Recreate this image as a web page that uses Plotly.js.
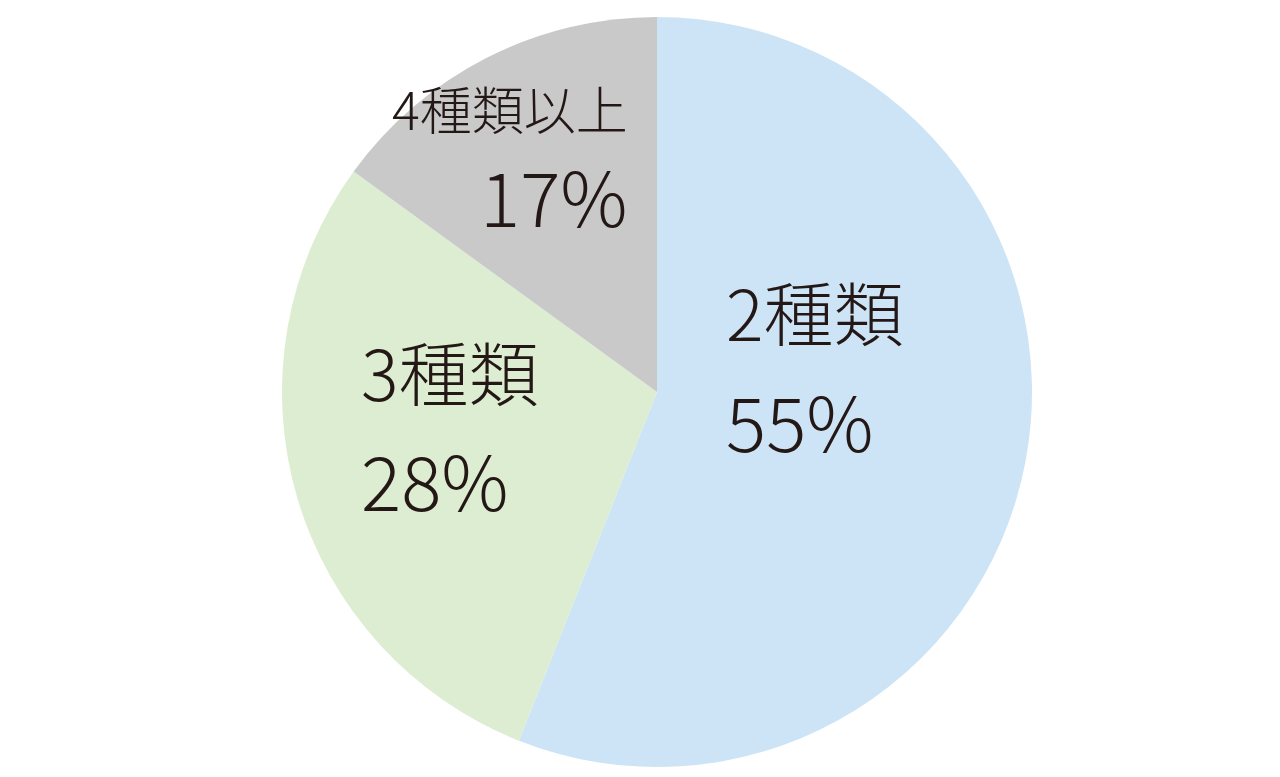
<!DOCTYPE html>
<html>
<head>
<meta charset="utf-8">
<script src="https://cdn.plot.ly/plotly-3.0.1.min.js"></script>
<style>
  html, body { margin: 0; padding: 0; background: #fff; }
  #chart { width: 1280px; height: 777px; }
</style>
</head>
<body>
<div id="chart"></div>
<script>
const categories = ['2種類', '3種類', '4種類以上'];
const sliceSizes = [56, 29, 15];
const pctLabels  = ['55%', '28%', '17%'];
const colors     = ['#cde4f6', '#ddedd1', '#c9c9c9'];

const W = 1280, H = 777;
const CX = 657, CY = 392, R = 375;
const TEXT = '#231815';
const FONT = "'Noto Sans CJK JP', 'Noto Sans', sans-serif";

// label spots (px): [x, yName, yPct, anchor, nameSize]
const labelSpots = [
  [724, 310, 419, 'left', 70],
  [359, 370, 479, 'left', 70],
  [630, 108, 195, 'right', 52],
];

const px = x => x / W;
const py = y => 1 - y / H;

const annotations = [];
categories.forEach((c, i) => {
  const [x, yN, yP, anchor, size] = labelSpots[i];
  annotations.push({
    xref: 'paper', yref: 'paper', x: px(x), y: py(yN),
    xanchor: anchor, yanchor: 'middle', showarrow: false,
    text: c, font: { family: FONT, size: size, color: TEXT, weight: 300 },
  });
  annotations.push({
    xref: 'paper', yref: 'paper', x: px(x), y: py(yP),
    xanchor: anchor, yanchor: 'middle', showarrow: false,
    text: pctLabels[i], font: { family: FONT, size: 75, color: TEXT, weight: 300 },
  });
});

const traces = [{
  type: 'pie',
  labels: categories,
  values: sliceSizes,
  sort: false,
  direction: 'clockwise',
  rotation: 0,
  marker: { colors: colors, line: { width: 0 } },
  textinfo: 'none',
  hoverinfo: 'label',
  domain: { x: [px(CX - R), px(CX + R)], y: [py(CY + R), py(CY - R)] },
}];

const layout = {
  width: W, height: H,
  margin: { t: 0, r: 0, b: 0, l: 0 },
  paper_bgcolor: '#ffffff',
  showlegend: false,
  annotations: annotations,
};

Plotly.newPlot('chart', traces, layout, { displayModeBar: false, staticPlot: true });
</script>
</body>
</html>
